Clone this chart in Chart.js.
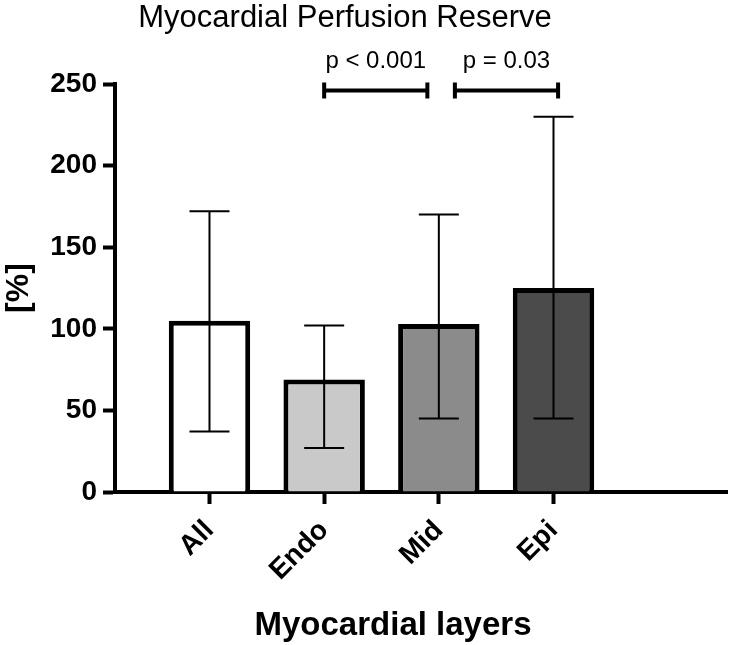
<!DOCTYPE html>
<html>
<head>
<meta charset="utf-8">
<script src="https://cdn.jsdelivr.net/npm/chart.js@4"></script>
<style>
  html, body { margin: 0; padding: 0; background: #fff; }
  #wrap { width: 730px; height: 645px; }
</style>
</head>
<body>
<div id="wrap"><canvas id="grafico"></canvas></div>
<script>
const categorias = ['All', 'Endo', 'Mid', 'Epi'];
const medias = [105, 69, 103, 125];
const erroSup = [172, 102, 170, 230];
const erroInf = [37, 27, 45, 45];
const cores = ['#ffffff', '#c9c9c9', '#8b8b8b', '#4b4b4b'];
const yTicks = [0, 50, 100, 150, 200, 250];

// comparacoes entre camadas (posicoes em unidades do eixo x)
const compInicio = [2.0, 3.14];
const compFim = [2.9, 4.04];
const compY = 246;
const compTexto = ['p < 0.001', 'p = 0.03'];

const fonte = '"Liberation Sans", Arial, sans-serif';

const extras = {
    id: 'extras',
    afterDatasetsDraw(chart) {
        const c = chart.ctx;
        const x = chart.scales.x;
        const y = chart.scales.y;
        c.save();
        c.strokeStyle = '#000';
        c.lineCap = 'butt';

        // barras de erro
        c.lineWidth = 2;
        for (let i = 0; i < medias.length; i++) {
            const px = x.getPixelForValue(i + 1);
            const yt = y.getPixelForValue(erroSup[i]);
            const yb = y.getPixelForValue(erroInf[i]);
            c.beginPath();
            c.moveTo(px, yt); c.lineTo(px, yb);
            c.moveTo(px - 20, yt); c.lineTo(px + 20, yt);
            c.moveTo(px - 20, yb); c.lineTo(px + 20, yb);
            c.stroke();
        }

        // colchetes de significancia
        c.lineWidth = 4;
        c.fillStyle = '#000';
        c.font = '24px ' + fonte;
        c.textAlign = 'center';
        c.textBaseline = 'alphabetic';
        for (let i = 0; i < compTexto.length; i++) {
            const x1 = x.getPixelForValue(compInicio[i]);
            const x2 = x.getPixelForValue(compFim[i]);
            const py = y.getPixelForValue(compY);
            c.beginPath();
            c.moveTo(x1, py); c.lineTo(x2, py);
            c.moveTo(x1, py - 8); c.lineTo(x1, py + 8);
            c.moveTo(x2, py - 8); c.lineTo(x2, py + 8);
            c.stroke();
            c.fillText(compTexto[i], (x1 + x2) / 2, py - 23);
        }

        // titulos
        c.font = '31px ' + fonte;
        c.fillText('Myocardial Perfusion Reserve', 345, 27);
        c.font = 'bold 33px ' + fonte;
        c.fillText('Myocardial layers', 393, 635);
        c.restore();
    }
};

const ctx = document.getElementById('grafico');

const grafico = new Chart(ctx, {
    type: 'bar',
    data: {
        datasets: [{
            data: medias.map((v, i) => ({ x: i + 1, y: v })),
            backgroundColor: cores,
            borderColor: '#000',
            borderWidth: 5,
            barPercentage: 0.71,
            categoryPercentage: 1
        }]
    },
    plugins: [extras],
    options: {
        responsive: true,
        maintainAspectRatio: false,
        animation: false,
        layout: { padding: { top: 84, right: 3, left: 0, bottom: 0 } },
        plugins: {
            legend: { display: false },
            tooltip: { enabled: false }
        },
        scales: {
            x: {
                type: 'linear',
                min: 0.176,
                max: 5.513,
                offset: false,
                afterBuildTicks: (s) => { s.ticks = categorias.map((_, i) => ({ value: i + 1 })); },
                afterFit: (s) => { s.height = 153; },
                grid: { offset: false, drawOnChartArea: false, tickLength: 12, tickWidth: 4, color: '#000' },
                border: { display: true, width: 4, color: '#000' },
                ticks: {
                    callback: (v) => categorias[v - 1],
                    minRotation: 45,
                    maxRotation: 45,
                    color: '#000',
                    padding: 10,
                    font: { family: fonte, size: 28, weight: 'bold' }
                }
            },
            y: {
                min: 0,
                max: 250,
                afterBuildTicks: (s) => { s.ticks = yTicks.map(v => ({ value: v })); },
                afterFit: (s) => { s.width = 115; },
                grid: { drawOnChartArea: false, tickLength: 12, tickWidth: 4, color: '#000' },
                border: { display: true, width: 4, color: '#000' },
                ticks: {
                    color: '#000',
                    padding: 6,
                    font: { family: fonte, size: 28, weight: 'bold' }
                },
                title: {
                    display: true,
                    text: '[%]',
                    color: '#000',
                    padding: 0,
                    font: { family: fonte, size: 32, weight: 'bold' }
                }
            }
        }
    }
});
</script>
</body>
</html>
